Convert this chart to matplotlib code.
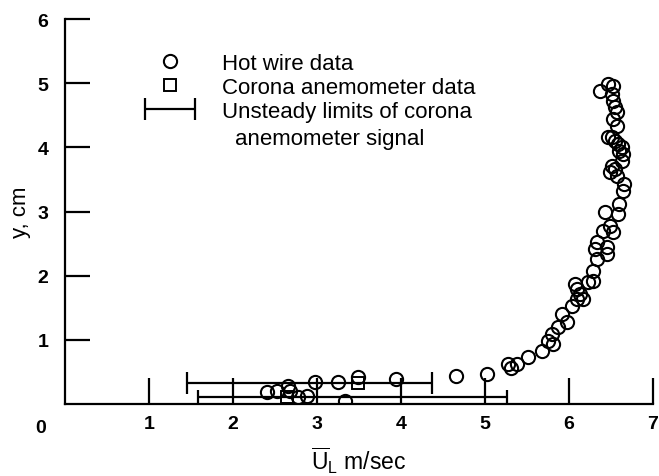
import numpy as np
import matplotlib
matplotlib.use("Agg")
import matplotlib.pyplot as plt
from matplotlib.container import ErrorbarContainer
from matplotlib.legend_handler import HandlerErrorbar

plt.rcParams['font.family'] = ['Liberation Sans', 'DejaVu Sans']
plt.rcParams['mathtext.fontset'] = 'custom'
plt.rcParams['mathtext.rm'] = 'Liberation Sans'
plt.rcParams['mathtext.it'] = 'Liberation Sans:italic'

# hot wire data (U m/sec, y cm)
hw_u = [6.37, 6.46, 6.52, 6.51, 6.52, 6.55, 6.57, 6.52, 6.57, 6.51, 6.46, 6.55,
        6.63, 6.64, 6.63, 6.51, 6.49, 6.55, 6.57, 6.65, 6.64, 6.60, 6.58,
        6.43, 6.49, 6.40, 6.52, 6.33, 6.45, 6.31, 6.45, 6.33, 6.29, 6.29,
        6.07, 6.10, 6.13, 6.10, 6.17, 6.04, 5.92, 5.98, 5.87, 5.80, 5.75,
        5.81, 5.68, 5.51, 5.38, 5.27, 5.31, 6.23, 6.58, 6.60,
        5.02, 4.65, 3.94, 3.49, 3.33, 3.25, 2.98, 2.88, 2.77, 2.68, 2.65,
        2.52, 2.40]
hw_y = [4.88, 4.98, 4.95, 4.83, 4.72, 4.63, 4.55, 4.44, 4.33, 4.16, 4.16, 4.10,
        4.00, 3.89, 3.78, 3.71, 3.61, 3.66, 3.55, 3.43, 3.32, 3.12, 2.96,
        2.99, 2.77, 2.69, 2.68, 2.52, 2.45, 2.41, 2.34, 2.26, 2.07, 1.92,
        1.87, 1.79, 1.71, 1.64, 1.64, 1.53, 1.40, 1.28, 1.20, 1.09, 0.98,
        0.93, 0.83, 0.73, 0.62, 0.62, 0.56, 1.90, 4.05, 3.95,
        0.47, 0.44, 0.39, 0.42, 0.05, 0.34, 0.34, 0.13, 0.11, 0.20, 0.28,
        0.20, 0.19]

# corona anemometer data with unsteady limits
ca_u = [3.49, 2.64]
ca_y = [0.33, 0.11]
ca_lo = [1.45, 1.58]
ca_hi = [4.37, 5.26]
cap_pts = [8, 5]

fig = plt.figure(figsize=(6.59, 4.77), dpi=100)
ax = fig.add_axes([65 / 659, 72 / 477, 588 / 659, 385 / 477])

bars = []
for u, y, lo, hi, cs in zip(ca_u, ca_y, ca_lo, ca_hi, cap_pts):
    eb = ax.errorbar([u], [y], xerr=[[u - lo], [hi - u]], fmt='none',
                     ecolor='black', elinewidth=1.6, capsize=cs, capthick=1.6)
    bars.append(eb)
sq, = ax.plot(ca_u, ca_y, 's', ms=8, mfc='none', mec='black', mew=1.4)
hw, = ax.plot(hw_u, hw_y, 'o', ms=9.5, mfc='none', mec='black', mew=1.5)

ax.set_xlim(0, 7)
ax.set_ylim(0, 6)
ax.set_xticks([1, 2, 3, 4, 5, 6, 7])
ax.set_yticks([1, 2, 3, 4, 5, 6])
ax.spines['top'].set_visible(False)
ax.spines['right'].set_visible(False)
for s in ['left', 'bottom']:
    ax.spines[s].set_linewidth(1.6)
ax.tick_params(axis='x', direction='in', length=19, width=1.6, pad=8,
               labelsize=14)
ax.tick_params(axis='y', direction='in', length=18, width=1.6, pad=12,
               labelsize=14)
for lab in ax.get_xticklabels() + ax.get_yticklabels():
    lab.set_fontweight('bold')
ax.text(-0.042, -0.04, '0', transform=ax.transAxes, ha='center', va='top',
        fontsize=14, fontweight='bold')

ax.set_xlabel(r'$\overline{\mathrm{U}}_{\mathrm{L}}$ m/sec', fontsize=16.5,
              labelpad=9)
ax.set_ylabel('y, cm', fontsize=16, labelpad=5)

fs = 16
leg = ax.legend([hw, sq, bars[0]],
                ['Hot wire data', 'Corona anemometer data',
                 'Unsteady limits of corona'],
                loc='upper left', bbox_to_anchor=(0.136, 0.912), frameon=False,
                fontsize=fs, handlelength=2.25, handletextpad=1.2,
                labelspacing=0.13, borderpad=0, borderaxespad=0,
                handler_map={ErrorbarContainer: HandlerErrorbar(xerr_size=1.12)})
ax.text(0.289, 0.69, 'anemometer signal', transform=ax.transAxes,
        fontsize=fs, va='center', ha='left')

fig.savefig('out.png', dpi=100)
